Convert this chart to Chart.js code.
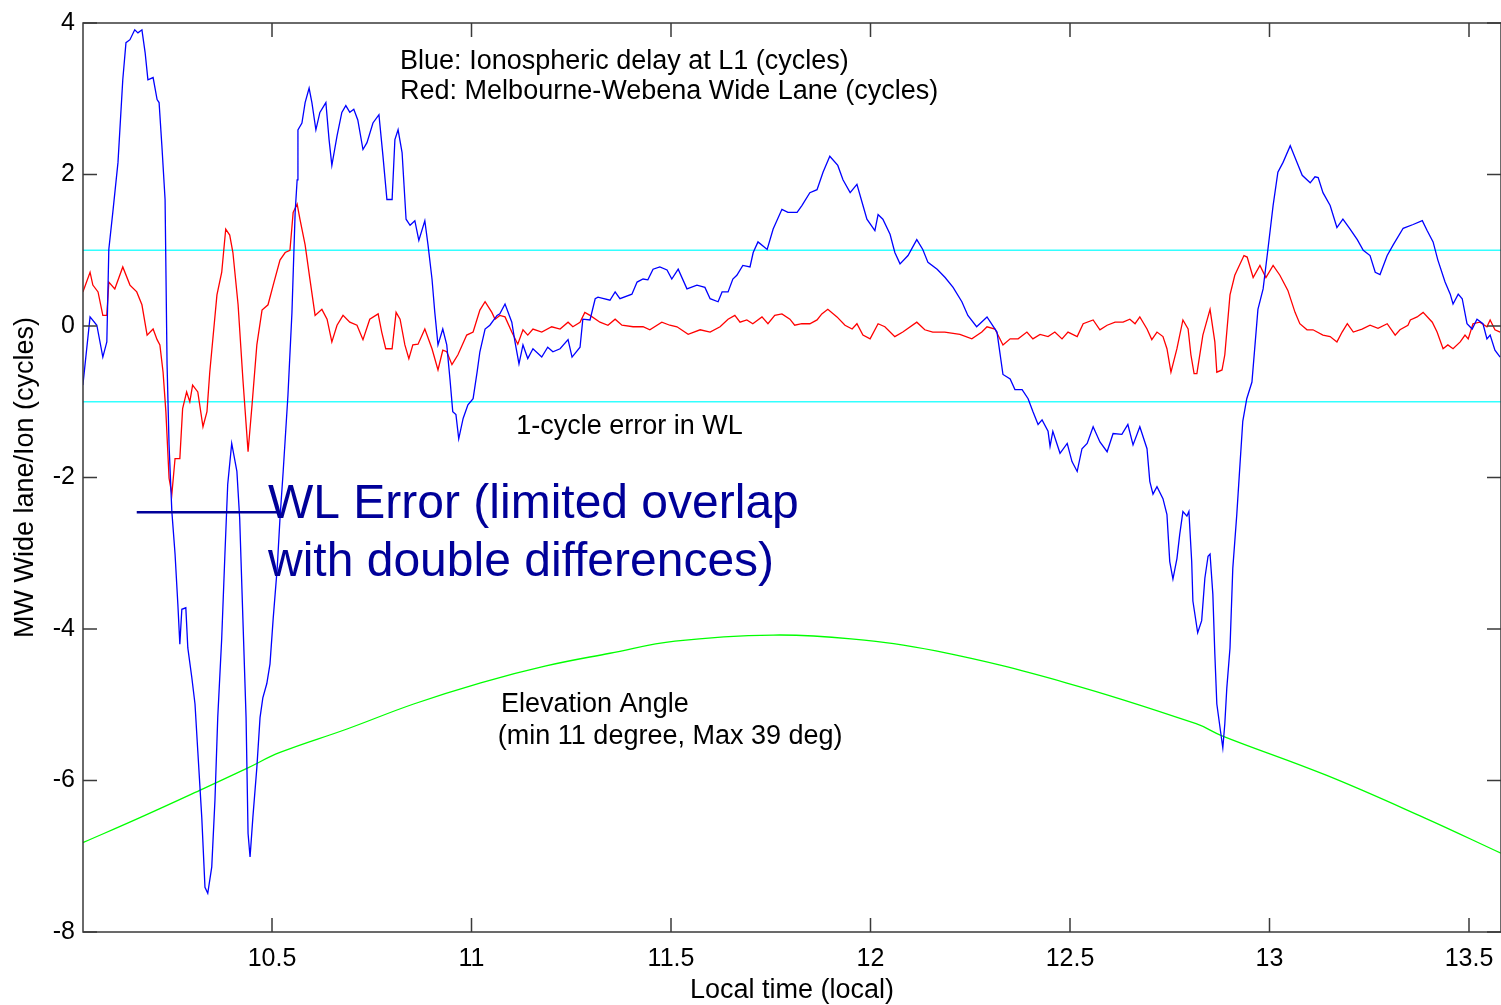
<!DOCTYPE html>
<html>
<head>
<meta charset="utf-8">
<title>MW Wide lane / Ionospheric delay</title>
<script src="https://cdn.jsdelivr.net/npm/chart.js@4.4.1/dist/chart.umd.min.js"></script>
<style>
  body { margin: 0; background: #fff; }
  canvas { display: block; }
</style>
</head>
<body>
<canvas id="js--chart" width="1501" height="1005"></canvas>
<script>
// [local time (h), value]
const blueDelay = [
  [10.026,-0.78],[10.044,0.12],[10.061,0.01],[10.076,-0.41],[10.086,-0.21],[10.091,1.01],[10.101,1.50],[10.114,2.16],
  [10.126,3.25],[10.134,3.74],[10.144,3.78],[10.156,3.91],[10.164,3.87],[10.174,3.91],[10.182,3.61],[10.189,3.25],
  [10.202,3.28],[10.212,2.99],[10.217,2.95],[10.224,2.38],[10.232,1.67],[10.237,-0.51],[10.242,-1.57],[10.249,-2.45],
  [10.257,-3.01],[10.264,-3.67],[10.269,-4.20],[10.274,-3.74],[10.284,-3.72],[10.289,-4.25],[10.299,-4.64],[10.307,-4.99],
  [10.314,-5.61],[10.324,-6.49],[10.332,-7.41],[10.339,-7.49],[10.349,-7.14],[10.357,-6.26],[10.364,-5.17],[10.374,-4.12],
  [10.382,-3.01],[10.389,-2.09],[10.399,-1.55],[10.412,-1.92],[10.419,-2.54],[10.427,-3.86],[10.435,-5.17],[10.440,-6.70],
  [10.445,-7.01],[10.452,-6.49],[10.462,-5.83],[10.470,-5.17],[10.477,-4.91],[10.487,-4.72],[10.495,-4.46],[10.503,-3.86],
  [10.513,-3.20],[10.520,-2.54],[10.528,-1.92],[10.540,-0.91],[10.550,0.18],[10.558,1.50],[10.563,1.93],[10.565,2.59],
  [10.575,2.68],[10.583,2.95],[10.593,3.14],[10.600,2.95],[10.610,2.59],[10.620,2.82],[10.635,2.95],[10.643,2.46],
  [10.650,2.12],[10.663,2.51],[10.675,2.82],[10.685,2.91],[10.695,2.82],[10.705,2.86],[10.715,2.72],[10.728,2.33],
  [10.738,2.42],[10.753,2.68],[10.768,2.79],[10.778,2.25],[10.788,1.67],[10.801,1.67],[10.808,2.46],[10.816,2.59],
  [10.826,2.29],[10.836,1.41],[10.846,1.33],[10.858,1.39],[10.868,1.13],[10.883,1.39],[10.891,1.07],[10.901,0.62],
  [10.908,0.18],[10.916,-0.25],[10.928,-0.04],[10.938,-0.25],[10.946,-0.70],[10.953,-1.13],[10.961,-1.17],[10.968,-1.49],
  [10.979,-1.22],[10.991,-1.04],[11.004,-0.96],[11.014,-0.61],[11.021,-0.34],[11.034,-0.04],[11.046,0.01],[11.064,0.14],
  [11.071,0.16],[11.084,0.29],[11.101,0.05],[11.109,-0.21],[11.119,-0.50],[11.129,-0.25],[11.141,-0.43],[11.154,-0.30],
  [11.176,-0.41],[11.191,-0.28],[11.204,-0.34],[11.222,-0.30],[11.242,-0.18],[11.252,-0.41],[11.272,-0.28],[11.279,0.09],
  [11.297,0.08],[11.310,0.36],[11.317,0.38],[11.347,0.34],[11.360,0.45],[11.372,0.36],[11.402,0.42],[11.415,0.58],
  [11.430,0.62],[11.442,0.61],[11.455,0.75],[11.472,0.78],[11.490,0.74],[11.502,0.62],[11.518,0.75],[11.540,0.49],
  [11.565,0.54],[11.585,0.51],[11.598,0.36],[11.618,0.32],[11.628,0.45],[11.643,0.45],[11.655,0.62],[11.665,0.67],
  [11.680,0.80],[11.698,0.78],[11.706,0.97],[11.718,1.11],[11.741,1.01],[11.756,1.28],[11.778,1.54],[11.793,1.50],
  [11.816,1.50],[11.828,1.59],[11.848,1.76],[11.866,1.80],[11.881,2.03],[11.898,2.24],[11.918,2.12],[11.931,1.93],
  [11.949,1.76],[11.966,1.87],[11.979,1.63],[11.991,1.41],[12.011,1.26],[12.019,1.47],[12.031,1.41],[12.049,1.21],
  [12.061,0.97],[12.074,0.82],[12.094,0.93],[12.116,1.14],[12.131,1.01],[12.144,0.84],[12.167,0.75],[12.187,0.64],
  [12.207,0.51],[12.229,0.32],[12.244,0.14],[12.266,-0.01],[12.292,0.12],[12.317,-0.08],[12.332,-0.64],[12.350,-0.70],
  [12.362,-0.84],[12.380,-0.84],[12.395,-0.96],[12.407,-1.13],[12.420,-1.30],[12.430,-1.24],[12.445,-1.39],[12.450,-1.59],
  [12.457,-1.39],[12.475,-1.68],[12.493,-1.55],[12.505,-1.79],[12.518,-1.92],[12.530,-1.62],[12.543,-1.55],[12.558,-1.33],
  [12.575,-1.53],[12.593,-1.66],[12.608,-1.42],[12.630,-1.43],[12.645,-1.30],[12.658,-1.57],[12.675,-1.33],[12.693,-1.62],
  [12.700,-2.05],[12.708,-2.22],[12.718,-2.12],[12.733,-2.28],[12.743,-2.49],[12.750,-3.11],[12.758,-3.34],[12.768,-3.07],
  [12.775,-2.75],[12.783,-2.45],[12.793,-2.51],[12.798,-2.45],[12.805,-3.11],[12.808,-3.63],[12.820,-4.05],[12.830,-3.89],
  [12.838,-3.33],[12.846,-3.04],[12.851,-3.01],[12.858,-3.54],[12.863,-4.33],[12.868,-4.99],[12.878,-5.38],[12.883,-5.57],
  [12.888,-5.25],[12.893,-4.78],[12.901,-4.25],[12.908,-3.20],[12.918,-2.49],[12.926,-1.83],[12.933,-1.26],[12.943,-0.96],
  [12.956,-0.74],[12.971,0.22],[12.984,0.49],[12.996,1.01],[13.009,1.59],[13.021,2.03],[13.034,2.16],[13.052,2.38],
  [13.069,2.16],[13.082,1.99],[13.102,1.89],[13.114,1.97],[13.122,1.96],[13.134,1.76],[13.152,1.59],[13.169,1.30],
  [13.184,1.41],[13.202,1.28],[13.220,1.14],[13.235,1.00],[13.252,0.93],[13.265,0.71],[13.277,0.68],[13.295,0.93],
  [13.310,1.07],[13.335,1.29],[13.360,1.34],[13.383,1.39],[13.395,1.26],[13.410,1.11],[13.422,0.87],[13.440,0.58],
  [13.453,0.42],[13.460,0.29],[13.473,0.42],[13.483,0.36],[13.495,0.03],[13.508,-0.04],[13.520,0.09],[13.535,0.03],
  [13.545,-0.17],[13.553,-0.12],[13.565,-0.32],[13.578,-0.41]
];

const redWideLane = [
  [10.026,0.45],[10.044,0.71],[10.051,0.54],[10.064,0.45],[10.076,0.14],[10.086,0.14],[10.091,0.58],[10.106,0.49],
  [10.126,0.78],[10.144,0.54],[10.161,0.45],[10.174,0.28],[10.187,-0.12],[10.202,-0.04],[10.212,-0.18],[10.219,-0.25],
  [10.227,-0.61],[10.234,-1.13],[10.242,-2.01],[10.249,-2.22],[10.257,-1.75],[10.269,-1.75],[10.276,-1.09],[10.286,-0.87],
  [10.294,-1.00],[10.301,-0.78],[10.314,-0.87],[10.327,-1.33],[10.337,-1.13],[10.344,-0.61],[10.362,0.41],[10.374,0.71],
  [10.384,1.28],[10.394,1.20],[10.402,0.97],[10.415,0.28],[10.427,-0.70],[10.440,-1.66],[10.450,-1.04],[10.462,-0.25],
  [10.475,0.21],[10.490,0.28],[10.503,0.54],[10.520,0.87],[10.533,0.97],[10.545,1.00],[10.553,1.50],[10.563,1.61],
  [10.570,1.41],[10.583,1.07],[10.595,0.62],[10.608,0.14],[10.625,0.22],[10.638,0.09],[10.650,-0.21],[10.663,0.01],
  [10.678,0.14],[10.695,0.05],[10.713,0.01],[10.728,-0.18],[10.745,0.09],[10.766,0.16],[10.775,-0.08],[10.785,-0.30],
  [10.801,-0.30],[10.811,0.18],[10.821,0.09],[10.833,-0.25],[10.843,-0.43],[10.853,-0.25],[10.866,-0.24],[10.883,-0.04],
  [10.901,-0.30],[10.916,-0.58],[10.928,-0.32],[10.938,-0.34],[10.951,-0.51],[10.966,-0.38],[10.988,-0.12],[11.004,-0.08],
  [11.021,0.21],[11.034,0.32],[11.051,0.18],[11.059,0.09],[11.071,0.14],[11.084,0.12],[11.101,-0.08],[11.116,-0.24],
  [11.129,-0.05],[11.141,-0.12],[11.154,-0.04],[11.176,-0.08],[11.201,-0.01],[11.222,-0.04],[11.242,0.05],[11.254,-0.01],
  [11.272,0.05],[11.284,0.18],[11.297,0.14],[11.322,0.05],[11.342,0.01],[11.360,0.09],[11.377,0.01],[11.405,-0.01],
  [11.430,-0.01],[11.447,-0.05],[11.477,0.05],[11.497,0.01],[11.515,-0.01],[11.543,-0.11],[11.573,-0.05],[11.598,-0.08],
  [11.623,-0.01],[11.643,0.09],[11.660,0.14],[11.673,0.05],[11.690,0.08],[11.705,0.03],[11.728,0.12],[11.743,0.03],
  [11.760,0.14],[11.778,0.16],[11.798,0.09],[11.810,0.01],[11.828,0.03],[11.848,0.03],[11.866,0.08],[11.878,0.16],
  [11.893,0.22],[11.916,0.12],[11.936,0.01],[11.954,-0.04],[11.966,0.03],[11.981,-0.12],[11.999,-0.17],[12.019,0.03],
  [12.036,-0.01],[12.061,-0.14],[12.081,-0.08],[12.116,0.05],[12.136,-0.05],[12.156,-0.08],[12.186,-0.08],[12.224,-0.11],
  [12.254,-0.17],[12.279,-0.08],[12.292,-0.01],[12.312,-0.04],[12.332,-0.25],[12.350,-0.17],[12.370,-0.17],[12.392,-0.08],
  [12.407,-0.17],[12.425,-0.11],[12.445,-0.14],[12.462,-0.08],[12.480,-0.17],[12.495,-0.08],[12.518,-0.14],[12.533,0.03],
  [12.558,0.08],[12.575,-0.05],[12.593,0.01],[12.613,0.05],[12.633,0.05],[12.650,0.09],[12.663,0.03],[12.675,0.12],
  [12.693,-0.04],[12.705,-0.18],[12.718,-0.08],[12.733,-0.14],[12.743,-0.30],[12.753,-0.61],[12.768,-0.30],[12.783,0.08],
  [12.796,-0.04],[12.803,-0.38],[12.811,-0.63],[12.818,-0.63],[12.833,-0.12],[12.851,0.22],[12.863,-0.21],[12.868,-0.61],
  [12.881,-0.58],[12.888,-0.38],[12.901,0.41],[12.913,0.67],[12.936,0.93],[12.944,0.91],[12.959,0.64],[12.976,0.80],
  [12.991,0.64],[13.009,0.80],[13.026,0.67],[13.046,0.47],[13.064,0.18],[13.076,0.03],[13.094,-0.05],[13.109,-0.05],
  [13.134,-0.12],[13.152,-0.14],[13.169,-0.21],[13.182,-0.08],[13.195,0.03],[13.210,-0.08],[13.232,-0.04],[13.252,0.01],
  [13.272,-0.03],[13.295,0.03],[13.315,-0.12],[13.327,-0.05],[13.347,0.01],[13.353,0.08],[13.370,0.12],[13.385,0.18],
  [13.408,0.05],[13.420,-0.08],[13.435,-0.30],[13.447,-0.25],[13.460,-0.30],[13.478,-0.21],[13.490,-0.12],[13.498,-0.17],
  [13.510,0.03],[13.527,0.05],[13.545,-0.01],[13.553,0.08],[13.565,-0.05],[13.578,-0.08]
];

const greenElevation = [
  [10.026,-6.82],[10.169,-6.49],[10.327,-6.11],[10.437,-5.84],[10.520,-5.63],[10.688,-5.32],[10.855,-4.99],
  [11.023,-4.71],[11.184,-4.49],[11.347,-4.32],[11.510,-4.16],[11.756,-4.08],[11.951,-4.13],[12.164,-4.29],
  [12.490,-4.71],[12.816,-5.25],[12.881,-5.41],[13.142,-5.93],[13.387,-6.49],[13.580,-6.96]
];

const cycleLimits = [1, -1];
const timeRange = [10.0263, 13.5802];
const xTicks = [10.5, 11, 11.5, 12, 12.5, 13, 13.5];
const yTicks = [-8, -6, -4, -2, 0, 2, 4];

const fontFamily = 'Arial, "Liberation Sans", sans-serif';
Chart.defaults.font.family = fontFamily;
Chart.defaults.color = "#000";

function toPoints(list) {
    return list.map(function(p){ return {x: p[0], y: p[1]}; });
}

function lineSet(points, color, width) {
    return {
        data: points,
        showLine: true,
        borderColor: color,
        borderWidth: width,
        pointRadius: 0,
        tension: 0
    };
}

const datasets = [
    lineSet(toPoints(blueDelay), "#0000ff", 1.3),
    lineSet(toPoints(redWideLane), "#ff0000", 1.3),
    Object.assign(lineSet(toPoints(greenElevation), "#00ff00", 1.3), {tension: 0.4})
];
cycleLimits.forEach(function(c){
    datasets.push(lineSet([{x: timeRange[0], y: c}, {x: timeRange[1], y: c}], "#33ffff", 1.6));
});

// matlab style box with inner ticks + the text notes
const boxAndNotes = {
    id: "boxAndNotes",
    afterDatasetsDraw(chart) {
        const ctx = chart.ctx;
        const a = chart.chartArea;
        const xs = chart.scales.x;
        const ys = chart.scales.y;
        ctx.save();
        ctx.strokeStyle = "#3a3a3a";
        ctx.lineWidth = 1.5;
        ctx.strokeRect(a.left, a.top, a.right - a.left, a.bottom - a.top);
        ctx.beginPath();
        xTicks.forEach(function(t){
            const px = xs.getPixelForValue(t);
            ctx.moveTo(px, a.bottom); ctx.lineTo(px, a.bottom - 14);
            ctx.moveTo(px, a.top); ctx.lineTo(px, a.top + 14);
        });
        yTicks.forEach(function(t){
            const py = ys.getPixelForValue(t);
            ctx.moveTo(a.left, py); ctx.lineTo(a.left + 14, py);
            ctx.moveTo(a.right, py); ctx.lineTo(a.right - 14, py);
        });
        ctx.stroke();

        function note(text, x, y, size, color) {
            ctx.font = size + "px " + fontFamily;
            ctx.fillStyle = color;
            ctx.textAlign = "left";
            ctx.textBaseline = "middle";
            ctx.fillText(text, xs.getPixelForValue(x), ys.getPixelForValue(y));
        }
        note("Blue: Ionospheric delay at L1 (cycles)", 10.821, 3.49, 27, "#000");
        note("Red: Melbourne-Webena Wide Lane (cycles)", 10.821, 3.09, 27, "#000");
        note("1-cycle error in WL", 11.112, -1.33, 27, "#000");
        note("Elevation Angle", 11.074, -5.0, 27, "#000");
        note("(min 11 degree, Max 39 deg)", 11.066, -5.42, 27, "#000");

        ctx.strokeStyle = "#000099";
        ctx.lineWidth = 2.5;
        ctx.beginPath();
        ctx.moveTo(xs.getPixelForValue(10.161), ys.getPixelForValue(-2.46));
        ctx.lineTo(xs.getPixelForValue(10.52), ys.getPixelForValue(-2.46));
        ctx.stroke();
        note("WL Error (limited overlap", 10.49, -2.36, 48, "#000099");
        note("with double differences)", 10.49, -3.12, 48, "#000099");
        ctx.restore();
    }
};

const chart = new Chart(document.getElementById("js--chart"), {
    type: "scatter",
    data: {datasets: datasets},
    options: {
        responsive: false,
        animation: false,
        layout: {padding: {left: 0, top: 20, right: 0, bottom: 0}},
        plugins: {legend: {display: false}, tooltip: {enabled: false}},
        scales: {
            x: {
                type: "linear",
                min: timeRange[0],
                max: timeRange[1],
                grid: {display: false, drawTicks: false},
                border: {display: false},
                afterBuildTicks: function(scale){
                    scale.ticks = xTicks.map(function(v){ return {value: v}; });
                },
                afterFit: function(scale){
                    scale.height = 73;
                    scale.paddingLeft = 0;
                    scale.paddingRight = 0;
                },
                ticks: {
                    padding: 12,
                    font: {size: 25},
                    maxRotation: 0,
                    callback: function(v){ return String(v); }
                },
                title: {display: true, text: "Local time (local)", font: {size: 27, lineHeight: 1.1}, padding: {top: 0, bottom: 0}}
            },
            y: {
                min: -8,
                max: 4,
                grid: {display: false, drawTicks: false},
                border: {display: false},
                afterBuildTicks: function(scale){
                    scale.ticks = yTicks.map(function(v){ return {value: v}; });
                },
                afterFit: function(scale){ scale.width = 83; },
                ticks: {
                    padding: 8,
                    font: {size: 25},
                    callback: function(v){ return String(v); }
                },
                title: {display: true, text: "MW Wide lane/Ion (cycles)", font: {size: 27}, padding: {top: 9, bottom: 0}}
            }
        }
    },
    plugins: [boxAndNotes]
});
</script>
</body>
</html>
